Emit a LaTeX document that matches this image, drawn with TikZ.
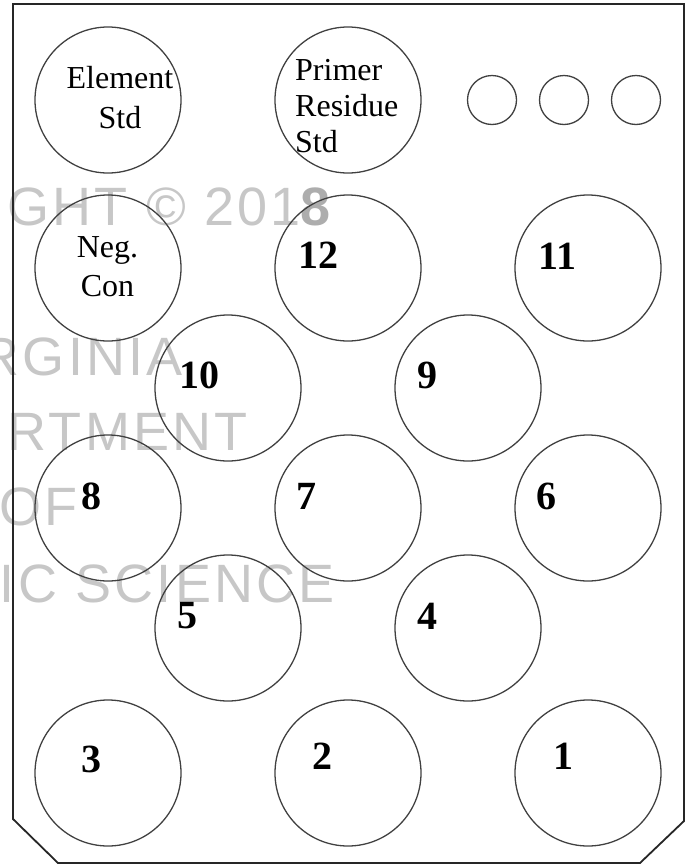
\documentclass[tikz,border=0pt]{standalone}
\usepackage{fontspec}
\setmainfont{Liberation Serif}
\newfontfamily\markfont[LetterSpace=6]{Liberation Sans}
\usetikzlibrary{positioning}

\begin{document}
\begin{tikzpicture}[
    x=1pt, y=-1pt,
    % tray outline and wells
    tray/.style={draw=black!85, line width=1.8pt, line join=miter},
    well/.style={circle, draw=black!75, line width=1.3pt, minimum size=146pt, inner sep=0pt, outer sep=0pt},
    smallwell/.style={well, minimum size=49pt},
    % texts in the wells
    wellnum/.style={font=\fontsize{40}{44}\selectfont\bfseries, inner sep=0pt},
    welltext/.style={font=\fontsize{32}{40}\selectfont, inner sep=0pt, align=center},
    % faint watermark lines
    wmark/.style={font=\markfont\fontsize{54}{54}\selectfont, text=black!22, anchor=base east, inner sep=0pt}
]
\useasboundingbox (0,0) rectangle (687,865);

%% -- Watermark --------------------------------------------------
\begin{scope}
\clip (0,0) rectangle (687,865);
\node (wm1) [wmark] at (331,225) {GHT © 201\textcolor{black!32}{\bfseries 8}};
\node (wm2) [wmark] at (183,375) {RGINIA};
\node (wm3) [wmark] at (248,450) {RTMENT};
\node (wm4) [wmark] at (78,525) {OF};
\node (wm5) [wmark] at (335,602) {IC SCIENCE};
\end{scope}

%% -- Tray ---------------------------------------------------------
\draw [tray] (13,4) -- (684,4) -- (684,821) -- (640,863) -- (58,863) -- (13,819) -- cycle;

%% -- Top row: standards and small wells --------------------------
\node (elem) [well] at (108,100) {};
\node (primer) [well, right=94pt of elem] {};
\node (s1) [smallwell] at (492,100) {};
\node (s2) [smallwell, right=23pt of s1] {};
\node (s3) [smallwell, right=23pt of s2] {};

\node (elemtxt) [welltext] at (120,98) {Element\\Std};
\node (primertxt) [welltext, align=left, anchor=west, font=\fontsize{32}{36}\selectfont] at (295,106.5) {Primer\\Residue\\Std};

%% -- Sample wells -------------------------------------------------
\node (neg) [well] at (108,268) {};
\node (c12) [well, right=94pt of neg] {};
\node (c11) [well, right=94pt of c12] {};
\node (c10) [well] at (228,388) {};
\node (c9) [well, right=94pt of c10] {};
\node (c8) [well] at (108,508) {};
\node (c7) [well, right=94pt of c8] {};
\node (c6) [well, right=94pt of c7] {};
\node (c5) [well] at (228,628) {};
\node (c4) [well, right=94pt of c5] {};
\node (c3) [well] at (108,773) {};
\node (c2) [well, right=94pt of c3] {};
\node (c1) [well, right=94pt of c2] {};

\node (negtxt) [welltext, font=\fontsize{32}{39}\selectfont] at (107.5,267) {Neg.\\Con};

%% -- Well numbers -------------------------------------------------
\node (n12) [wellnum, xshift=-30pt, yshift=12.5pt] at (c12) {12};
\node (n11) [wellnum, xshift=-30.5pt, yshift=12pt] at (c11) {11};
\node (n10) [wellnum, xshift=-29pt, yshift=13pt] at (c10) {10};
\node (n9) [wellnum, xshift=-41pt, yshift=13pt] at (c9) {9};
\node (n8) [wellnum, xshift=-16.5pt, yshift=12pt] at (c8) {8};
\node (n7) [wellnum, xshift=-42pt, yshift=12pt] at (c7) {7};
\node (n6) [wellnum, xshift=-42pt, yshift=12pt] at (c6) {6};
\node (n5) [wellnum, xshift=-41pt, yshift=12pt] at (c5) {5};
\node (n4) [wellnum, xshift=-41pt, yshift=12pt] at (c4) {4};
\node (n3) [wellnum, xshift=-17pt, yshift=13.5pt] at (c3) {3};
\node (n2) [wellnum, xshift=-26pt, yshift=16.5pt] at (c2) {2};
\node (n1) [wellnum, xshift=-24.5pt, yshift=17pt] at (c1) {1};

\end{tikzpicture}
\end{document}
